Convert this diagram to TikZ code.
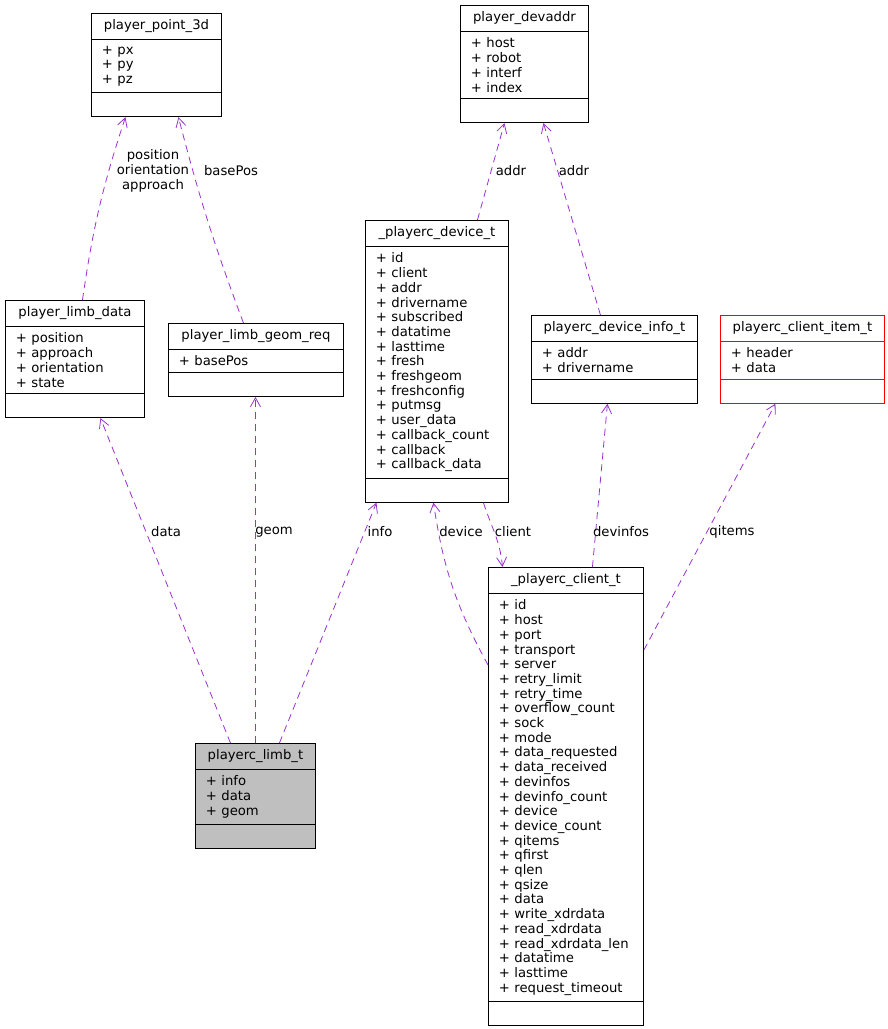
\documentclass[tikz,border=0pt]{standalone}
\usepackage{fontspec}
\setmainfont{DejaVu Sans}
\usetikzlibrary{arrows.meta, positioning, calc, shapes.multipart}
\definecolor{edgeviolet}{RGB}{154,50,205}

\begin{document}
\begin{tikzpicture}[
        x=1pt, y=1pt,
        font=\fontsize{13.2}{14.7}\selectfont,
        >={Straight Barb[length=9pt, width=10pt]},
        cls/.style={draw, line width=0.9pt, rectangle split, rectangle split parts=3,
            anchor=north west, inner xsep=10.5pt, inner ysep=6pt, align=left,
            every text node part/.style={align=center},
            every three node part/.style={text width={}},
            rectangle split empty part height=11pt},
        uses/.style={->, draw=edgeviolet, dash pattern=on 7pt off 5pt, line width=0.8pt},
        lbl/.style={inner sep=1pt}
    ]
        \useasboundingbox (0,0) rectangle (888,-1029);

        % classes
        \node[cls, text width=109pt] (p3d) at (91,-13)
            {player\_point\_3d \nodepart{two} + px\\+ py\\+ pz \nodepart{three}};
        \node[cls, text width=107pt] (devaddr) at (460,-5)
            {player\_devaddr \nodepart{two} + host\\+ robot\\+ interf\\+ index \nodepart{three}};
        \node[cls, text width=118pt] (limbdata) at (5,-300)
            {player\_limb\_data \nodepart{two} + position\\+ approach\\+ orientation\\+ state \nodepart{three}};
        \node[cls, text width=154pt] (geomreq) at (168,-323)
            {player\_limb\_geom\_req \nodepart{two} + basePos \nodepart{three}};
        \node[cls, text width=122pt] (devicet) at (365,-220)
            {\_playerc\_device\_t \nodepart{two} + id\\+ client\\+ addr\\+ drivername\\+ subscribed\\+ datatime\\+ lasttime\\+ fresh\\+ freshgeom\\+ freshconfig\\+ putmsg\\+ user\_data\\+ callback\_count\\+ callback\\+ callback\_data \nodepart{three}};
        \node[cls, text width=145pt] (infot) at (531,-315)
            {playerc\_device\_info\_t \nodepart{two} + addr\\+ drivername \nodepart{three}};
        \node[cls, text width=143pt, draw=red] (itemt) at (720,-315)
            {playerc\_client\_item\_t \nodepart{two} + header\\+ data \nodepart{three}};
        \node[cls, text width=134pt] (clientt) at (488,-567)
            {\_playerc\_client\_t \nodepart{two} + id\\+ host\\+ port\\+ transport\\+ server\\+ retry\_limit\\+ retry\_time\\+ overflow\_count\\+ sock\\+ mode\\+ data\_requested\\+ data\_received\\+ devinfos\\+ devinfo\_count\\+ device\\+ device\_count\\+ qitems\\+ qfirst\\+ qlen\\+ qsize\\+ data\\+ write\_xdrdata\\+ read\_xdrdata\\+ read\_xdrdata\_len\\+ datatime\\+ lasttime\\+ request\_timeout \nodepart{three}};
        \node[cls, text width=99pt, fill={rgb,255:red,191;green,191;blue,191}] (limbt) at (195,-743)
            {playerc\_limb\_t \nodepart{two} + info\\+ data\\+ geom \nodepart{three}};

        % usage edges
        \draw[uses] ([xshift=7.5]limbdata.north) to[bend left=5] ([xshift=-31]p3d.south);
        \draw[uses] ([xshift=-12.5]geomreq.north) to[bend left=3] ([xshift=22]p3d.south);
        \draw[uses] ([xshift=40.5]devicet.north) -- ([xshift=-20]devaddr.south);
        \draw[uses] ([xshift=-14]infot.north) -- ([xshift=19]devaddr.south);
        \draw[uses] ([xshift=-25]limbt.north) -- ([xshift=25.5]limbdata.south);
        \draw[uses] (limbt.north) -- ([xshift=-0.5]geomreq.south);
        \draw[uses] ([xshift=24]limbt.north) -- ([xshift=-60.5]devicet.south);
        \draw[uses] ($(clientt.north west)+(0,-98)$) to[bend left=10] ([xshift=-3.5]devicet.south);
        \draw[uses] ([xshift=46.5]devicet.south) to[out=-72, in=95] ([xshift=-63.5]clientt.north);
        \draw[uses] ([xshift=26.5]clientt.north) -- ([xshift=-7]infot.south);
        \draw[uses] ($(clientt.north east)+(0,-83)$) -- ([xshift=-27]itemt.south);

        % edge labels
        \node[lbl, align=center] (l-pos) at (153,-171) {position\\orientation\\approach};
        \node[lbl] (l-base) at (231,-171) {basePos};
        \node[lbl] (l-addr1) at (511,-171) {addr};
        \node[lbl] (l-addr2) at (574,-171) {addr};
        \node[lbl] (l-data) at (166,-532) {data};
        \node[lbl] (l-geom) at (274,-532) {geom};
        \node[lbl] (l-info) at (380,-532) {info};
        \node[lbl] (l-device) at (461,-532) {device};
        \node[lbl] (l-client) at (513,-532) {client};
        \node[lbl] (l-devinfos) at (621,-532) {devinfos};
        \node[lbl] (l-qitems) at (732,-532) {qitems};
    \end{tikzpicture}
\end{document}
